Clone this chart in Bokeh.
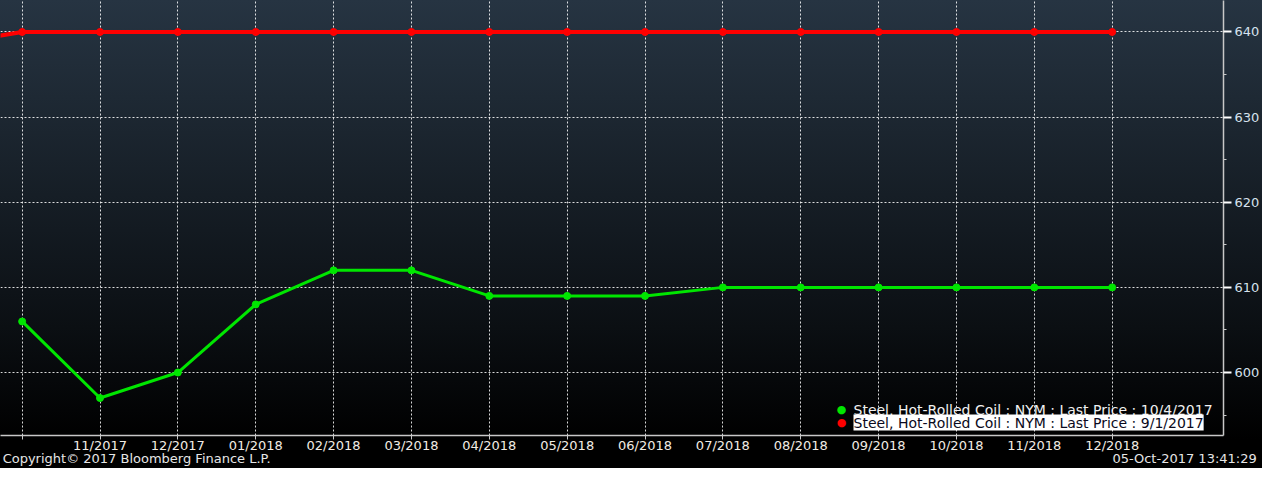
import math
from bokeh.plotting import figure
from bokeh.models import FixedTicker, Label, Range1d, ColumnDataSource, InlineStyleSheet, LinearAxis
from bokeh.embed import file_html
from bokeh.resources import INLINE

# ---------------- data ----------------
months = ["09/2017", "10/2017", "11/2017", "12/2017", "01/2018", "02/2018", "03/2018",
          "04/2018", "05/2018", "06/2018", "07/2018", "08/2018", "09/2018", "10/2018",
          "11/2018", "12/2018"]
month_idx = [-1, 0, 1, 2, 3, 4, 5, 6, 7, 8, 9, 10, 11, 12, 13, 14]
price_sep1 = [638.5, 640, 640, 640, 640, 640, 640, 640, 640, 640, 640, 640, 640, 640, 640, 640]
price_oct4 = [math.nan, 606, 597, 600, 608, 612, 612, 609, 609, 609, 610, 610, 610, 610, 610, 610]
x_tick_idx = [0, 1, 2, 3, 4, 5, 6, 7, 8, 9, 10, 11, 12, 13, 14]
x_tick_labels = ["", "11/2017", "12/2017", "01/2018", "02/2018", "03/2018", "04/2018", "05/2018",
                 "06/2018", "07/2018", "08/2018", "09/2018", "10/2018", "11/2018", "12/2018"]
y_ticks = [600, 610, 620, 630, 640]
y_minor_ticks = [595, 605, 615, 625, 635]
legend_labels = ["Steel, Hot-Rolled Coil : NYM : Last Price : 10/4/2017",
                 "Steel, Hot-Rolled Coil : NYM : Last Price : 9/1/2017"]
copyright_text = "Copyright\u00a9 2017 Bloomberg Finance L.P."
timestamp_text = "05-Oct-2017 13:41:29"

# ---------------- styling ----------------
FONT = "DejaVu Sans"
GREEN = "#00e600"
RED = "#ff0000"
W, H = 1262, 468
X_START, X_END = -0.278, 15.43
# footer text anchor positions (text centres, in x-axis units)
FOOTER_POS = [1.47, 14.93]

src = ColumnDataSource(dict(x=month_idx, red=price_sep1, green=price_oct4))

p = figure(width=W, height=H, output_backend="svg", toolbar_location=None,
           x_range=Range1d(X_START, X_END), y_range=Range1d(592.6, 643.7),
           y_axis_location="right", min_border_left=0, min_border_top=0,
           min_border_right=0, min_border_bottom=0)

p.background_fill_alpha = 0
p.border_fill_alpha = 0
p.outline_line_color = None
p.stylesheets = [InlineStyleSheet(css=":host { background: linear-gradient(to bottom, #263442 0%, #0b0f13 70%, #000000 94%, #000000 100%); }")]

# grid
p.xgrid.ticker = FixedTicker(ticks=x_tick_idx)
p.ygrid.ticker = FixedTicker(ticks=y_ticks)
for g in (p.xgrid, p.ygrid):
    g.grid_line_color = "#ffffff"
    g.grid_line_alpha = 0.85
    g.grid_line_dash = "2 2"
    g.grid_line_width = 1

# x axis
xa = p.xaxis[0]
xa.ticker = FixedTicker(ticks=x_tick_idx)
xa.major_label_overrides = {i: lab for i, lab in zip(x_tick_idx, x_tick_labels)}
xa.axis_line_color = "#c8c8c8"
xa.axis_line_width = 1.5
xa.major_tick_line_color = "#c8c8c8"
xa.major_tick_in = 0
xa.major_tick_out = 4
xa.minor_tick_line_color = None
xa.major_label_standoff = -2
xa.major_label_text_font = FONT
xa.major_label_text_font_size = "13px"
xa.major_label_text_color = "#f2ece4"

# footer line (copyright + timestamp) as a label-only axis
fa = LinearAxis(ticker=FixedTicker(ticks=FOOTER_POS),
                major_label_overrides={FOOTER_POS[0]: copyright_text, FOOTER_POS[1]: timestamp_text})
fa.axis_line_color = None
fa.major_tick_line_color = None
fa.minor_tick_line_color = None
fa.major_tick_in = 0
fa.major_tick_out = 0
fa.major_label_standoff = -5
fa.major_label_text_font = FONT
fa.major_label_text_font_size = "13px"
fa.major_label_text_color = "#e6e6e6"
p.add_layout(fa, "below")

# y axis (right)
ya = p.yaxis[0]
ya.ticker = FixedTicker(ticks=y_ticks, minor_ticks=y_minor_ticks)
ya.axis_line_color = "#c8c8c8"
ya.axis_line_width = 1.5
ya.major_tick_line_color = "#ffffff"
ya.major_tick_line_width = 2
ya.major_tick_in = 0
ya.major_tick_out = 8
ya.minor_tick_line_color = "#c8c8c8"
ya.minor_tick_in = 0
ya.minor_tick_out = 3
ya.major_label_standoff = 3
ya.major_label_text_font = FONT
ya.major_label_text_font_size = "13px"
ya.major_label_text_color = "#d6e2ee"

# series
p.line("x", "red", source=src, line_color=RED, line_width=4)
p.scatter("x", "red", source=src, size=7, fill_color=RED, line_color=RED)
p.line("x", "green", source=src, line_color=GREEN, line_width=3)
p.scatter("x", "green", source=src, size=7, fill_color=GREEN, line_color=GREEN)

# legend (manual)
leg_x, leg_y = 853, 26
row_h = 13
for i, (lab, col) in enumerate(zip(legend_labels, [GREEN, RED])):
    y = leg_y - i * row_h
    p.add_layout(Label(x=leg_x - 12, y=y, x_units="screen", y_units="screen", text="\u25cf",
                       text_color=col, text_font=FONT, text_font_size="11px",
                       text_align="center", text_baseline="middle"))
    if i == 0:
        p.add_layout(Label(x=leg_x, y=y, x_units="screen", y_units="screen", text=lab,
                           text_color="#f0f0f0", text_font=FONT, text_font_size="14px",
                           text_align="left", text_baseline="middle"))
    else:
        p.add_layout(Label(x=leg_x, y=y, x_units="screen", y_units="screen", text=lab,
                           text_color="#0a0a20", background_fill_color="#ffffff",
                           text_font=FONT, text_font_size="14px",
                           text_align="left", text_baseline="middle"))

open("out.html", "w").write(file_html(p, INLINE))
